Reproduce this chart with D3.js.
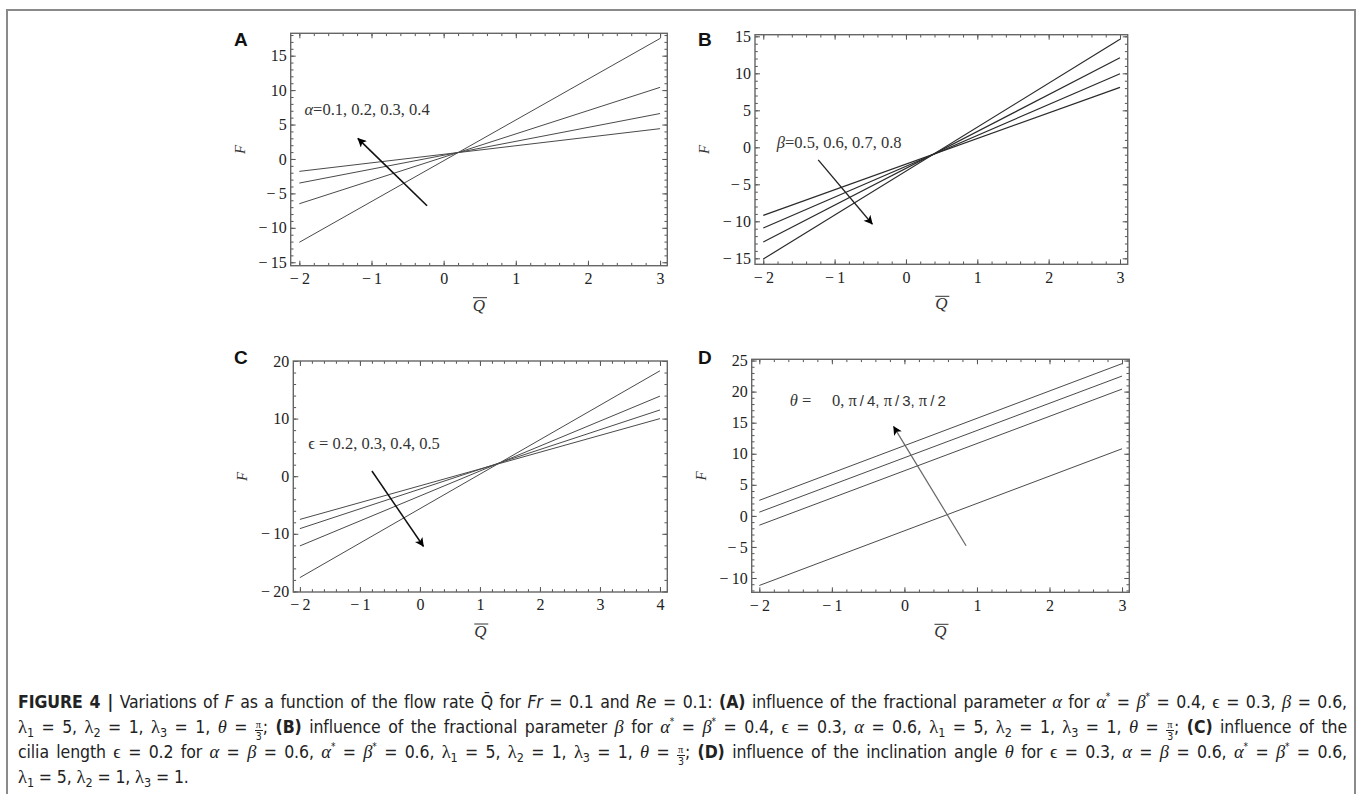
<!DOCTYPE html>
<html lang="en">
<head>
  <meta charset="UTF-8" />
  <title>Figure 4</title>
  <script src="https://cdn.jsdelivr.net/npm/d3@7"></script>
  <style>
    body { margin: 0; background: #fff; }
    #fig { position: absolute; left: 0; top: 0; }
    /* caption lines, each one justified to full width */
    .cap {
      position: absolute;
      left: 18px;
      width: 1329px;
      font-family: "Liberation Sans Narrow", "DejaVu Sans Condensed", "Roboto Condensed", sans-serif;
      font-size: 17.5px;
      letter-spacing: -0.1px;
      color: #222;
      text-align: justify;
      text-align-last: justify;
      line-height: 20px;
      white-space: nowrap;
    }
    .cap .m { font-family: "Liberation Serif", serif; font-size: 18.5px; }
    .cap sup { font-size: 10px; vertical-align: 8px; line-height: 0; }
    .cap sub { font-size: 12.5px; vertical-align: -4px; line-height: 0; }
    .frac { display: inline-block; vertical-align: -7px; text-align: center; font-size: 10.5px; line-height: 10px; }
    .frac span { display: block; padding: 0 1px; }
    .frac span:first-child { border-bottom: 1px solid #222; font-family: "Liberation Serif", serif; }
  </style>
</head>
<body>
<svg id="fig" width="1357" height="794"></svg>
<div id="caption"></div>
<script>
  const width = 1357;
  const height = 794;

  // ---- data (F at the two ends of each straight line) ----
  // A: alpha = 0.1, 0.2, 0.3, 0.4
  const qA = [-2, 3];
  const alphaLines = [[-1.8, 4.4], [-3.5, 6.6], [-6.5, 10.4], [-12.1, 17.5]];
  const xTicksA = [-2, -1, 0, 1, 2, 3];
  const yTicksA = [-15, -10, -5, 0, 5, 10, 15];

  // B: beta = 0.5, 0.6, 0.7, 0.8
  const qB = [-2, 3];
  const betaLines = [[-9.2, 8.1], [-10.9, 9.95], [-12.8, 12.1], [-15.1, 14.6]];
  const xTicksB = [-2, -1, 0, 1, 2, 3];
  const yTicksB = [-15, -10, -5, 0, 5, 10, 15];

  // C: epsilon = 0.2, 0.3, 0.4, 0.5
  const qC = [-2, 4];
  const epsLines = [[-7.5, 10.0], [-9.1, 11.5], [-12.1, 13.9], [-17.6, 18.3]];
  const xTicksC = [-2, -1, 0, 1, 2, 3, 4];
  const yTicksC = [-20, -10, 0, 10, 20];

  // D: theta = 0, pi/4, pi/3, pi/2
  const qD = [-2, 3];
  const thetaLines = [[2.5, 24.5], [0.6, 22.5], [-1.5, 20.4], [-11.2, 10.8]];
  const xTicksD = [-2, -1, 0, 1, 2, 3];
  const yTicksD = [-10, -5, 0, 5, 10, 15, 20, 25];

  // arrows [[q0, F0], [q1, F1]] (tail -> head)
  const arrowA = [[-0.23, -6.8], [-1.19, 3.0]];
  const arrowB = [[-1.23, -1.7], [-0.47, -10.4]];
  const arrowC = [[-0.8, 0.9], [0.06, -12.2]];
  const arrowD = [[0.85, -4.8], [-0.15, 14.4]];

  const panels = [
    { id: 'A', q: qA, lines: alphaLines, xTicks: xTicksA, yTicks: yTicksA, xMinor: 0.2, yMinor: 1,
      xDom: [-2.12, 3.10], yDom: [-15.5, 18.25], box: [290.7, 33.3, 667.3, 265.7],
      arrow: arrowA, lineColor: '#4a4a4a', lineW: 1, arrowColor: '#111', arrowW: 1.6,
      label: { q: -1.93, f: 6.4 }, letter: [234, 46] },
    { id: 'B', q: qB, lines: betaLines, xTicks: xTicksB, yTicks: yTicksB, xMinor: 0.2, yMinor: 1,
      xDom: [-2.116, 3.108], yDom: [-15.81, 15.22], box: [755, 34.7, 1127.7, 264.3],
      arrow: arrowB, lineColor: '#2a2a2a', lineW: 1.2, arrowColor: '#222', arrowW: 1.3,
      label: { q: -1.81, f: -0.1 }, letter: [698, 46] },
    { id: 'C', q: qC, lines: epsLines, xTicks: xTicksC, yTicks: yTicksC, xMinor: 0.2, yMinor: 2,
      xDom: [-2.11, 4.122], yDom: [-20.1, 20], box: [293.3, 361, 667.3, 592],
      arrow: arrowC, lineColor: '#4a4a4a', lineW: 1, arrowColor: '#111', arrowW: 1.5,
      label: { q: -1.86, f: 4.8 }, letter: [234, 363.5] },
    { id: 'D', q: qD, lines: thetaLines, xTicks: xTicksD, yTicks: yTicksD, xMinor: 0.2, yMinor: 1,
      xDom: [-2.105, 3.10], yDom: [-12.3, 25.2], box: [751.7, 359.3, 1129.3, 592.3],
      arrow: arrowD, lineColor: '#4a4a4a', lineW: 1, arrowColor: '#666', arrowW: 1.2,
      label: { q: -1.58, f: 17.7 }, letter: [698, 363.5] }
  ];

  const serif = '"Liberation Serif", "Times New Roman", serif';
  const minus = v => (v < 0 ? '\u2212\u2009' + Math.abs(v) : String(v));

  const svg = d3.select('#fig');

  // outer figure box (top + sides)
  svg.append('path')
    .attr('d', `M7,794 V10 H1355 V794`)
    .attr('fill', 'none')
    .attr('stroke', '#8a8a8a')
    .attr('stroke-width', 2);

  const defs = svg.append('defs');

  panels.forEach(p => {
    const [x0, y0, x1, y1] = p.box;
    const x = d3.scaleLinear().domain(p.xDom).range([x0, x1]);
    const y = d3.scaleLinear().domain(p.yDom).range([y1, y0]);
    const g = svg.append('g');

    // minor tick positions
    const xMinorVals = d3.range(Math.ceil(p.xDom[0] / p.xMinor), Math.floor(p.xDom[1] / p.xMinor) + 1)
      .map(i => +(i * p.xMinor).toFixed(4));
    const yMinorVals = d3.range(Math.ceil(p.yDom[0] / p.yMinor), Math.floor(p.yDom[1] / p.yMinor) + 1)
      .map(i => i * p.yMinor);

    const addAxis = (axis, tx, ty, isLabels) => {
      const a = g.append('g').attr('transform', `translate(${tx},${ty})`).call(axis);
      a.select('.domain').remove();
      a.selectAll('line').attr('stroke', '#555').attr('stroke-width', 1);
      if (isLabels) {
        a.selectAll('text').attr('font-family', serif).attr('font-size', 16).attr('fill', '#222');
      }
      return a;
    };

    // major ticks with labels (inward)
    addAxis(d3.axisBottom(x).tickValues(p.xTicks).tickSize(-5).tickPadding(7).tickFormat(minus), 0, y1, true);
    addAxis(d3.axisLeft(y).tickValues(p.yTicks).tickSize(-5).tickPadding(4).tickFormat(minus), x0, 0, true);
    // mirrored majors
    addAxis(d3.axisTop(x).tickValues(p.xTicks).tickSize(-5).tickFormat(''), 0, y0, false);
    addAxis(d3.axisRight(y).tickValues(p.yTicks).tickSize(-5).tickFormat(''), x1, 0, false);
    // minor ticks on all sides
    addAxis(d3.axisBottom(x).tickValues(xMinorVals).tickSize(-2.8).tickFormat(''), 0, y1, false);
    addAxis(d3.axisTop(x).tickValues(xMinorVals).tickSize(-2.8).tickFormat(''), 0, y0, false);
    addAxis(d3.axisLeft(y).tickValues(yMinorVals).tickSize(-2.8).tickFormat(''), x0, 0, false);
    addAxis(d3.axisRight(y).tickValues(yMinorVals).tickSize(-2.8).tickFormat(''), x1, 0, false);

    // frame
    g.append('rect')
      .attr('x', x0).attr('y', y0)
      .attr('width', x1 - x0).attr('height', y1 - y0)
      .attr('fill', 'none')
      .attr('stroke', '#666')
      .attr('stroke-width', 1.4);

    // the four curves
    const line = d3.line().x(d => x(d[0])).y(d => y(d[1]));
    g.selectAll('path.curve')
      .data(p.lines.map(s => s.map((f, i) => [p.q[i], f])))
      .join('path')
      .attr('class', 'curve')
      .attr('d', line)
      .attr('fill', 'none')
      .attr('stroke', p.lineColor)
      .attr('stroke-width', p.lineW);

    // arrow
    defs.append('marker')
      .attr('id', 'head' + p.id)
      .attr('viewBox', '0 0 10 10')
      .attr('refX', 9.5).attr('refY', 5)
      .attr('markerUnits', 'userSpaceOnUse')
      .attr('markerWidth', 12).attr('markerHeight', 9)
      .attr('orient', 'auto')
      .append('path')
      .attr('d', 'M0,0 L10,5 L0,10 L2.5,5 Z')
      .attr('fill', '#000');
    g.append('path')
      .attr('d', line(p.arrow))
      .attr('stroke', p.arrowColor)
      .attr('stroke-width', p.arrowW)
      .attr('fill', 'none')
      .attr('marker-end', `url(#head${p.id})`);

    // axis titles
    g.append('text')
      .attr('transform', `translate(${x0 - 46},${(y0 + y1) / 2}) rotate(-90)`)
      .attr('text-anchor', 'middle')
      .attr('font-family', serif).attr('font-style', 'italic')
      .attr('font-size', 15).attr('fill', '#333')
      .text('F');
    const qx = (x0 + x1) / 2;
    g.append('text')
      .attr('x', qx).attr('y', y1 + 45)
      .attr('text-anchor', 'middle')
      .attr('font-family', serif).attr('font-style', 'italic')
      .attr('font-size', 17).attr('fill', '#333')
      .text('Q');
    g.append('line')
      .attr('x1', qx - 6).attr('x2', qx + 8)
      .attr('y1', y1 + 32).attr('y2', y1 + 32)
      .attr('stroke', '#333').attr('stroke-width', 1);

    // panel letter
    g.append('text')
      .attr('x', p.letter[0]).attr('y', p.letter[1])
      .attr('font-family', '"Liberation Sans", Arial, sans-serif')
      .attr('font-weight', 'bold').attr('font-size', 19)
      .attr('fill', '#111')
      .text(p.id);

    // parameter label
    const lt = g.append('text')
      .attr('x', x(p.label.q)).attr('y', y(p.label.f))
      .attr('font-family', serif).attr('font-size', 16.5).attr('fill', '#333');
    if (p.id === 'A') {
      lt.append('tspan').attr('font-style', 'italic').text('α');
      lt.append('tspan').text('=0.1, 0.2, 0.3, 0.4');
    } else if (p.id === 'B') {
      lt.append('tspan').attr('font-style', 'italic').text('β');
      lt.append('tspan').text('=0.5, 0.6, 0.7, 0.8');
    } else if (p.id === 'C') {
      lt.append('tspan').text('ϵ = 0.2, 0.3, 0.4, 0.5');
    } else {
      lt.append('tspan').attr('font-style', 'italic').text('θ');
      lt.append('tspan').attr('xml:space', 'preserve').text(' =\u2003 0, ');
      const sans = '"Liberation Sans", Arial, sans-serif';
      lt.append('tspan').text('π');
      lt.append('tspan').attr('font-family', sans).attr('font-size', 15).text('\u2009/\u20094, ');
      lt.append('tspan').text('π');
      lt.append('tspan').attr('font-family', sans).attr('font-size', 15).text('\u2009/\u20093, ');
      lt.append('tspan').text('π');
      lt.append('tspan').attr('font-family', sans).attr('font-size', 15).text('\u2009/\u20092');
    }
  });

  // ---- caption ----
  const frac = '<span class="frac"><span>π</span><span>3</span></span>';
  const lam = '<span class="m">λ</span><sub>1</sub> = 5, <span class="m">λ</span><sub>2</sub> = 1, <span class="m">λ</span><sub>3</sub> = 1';
  const ast = (s) => `<i class="m">${s}</i><sup>*</sup>`;
  const captionLines = [
    `<b>FIGURE 4 |</b> Variations of <i>F</i> as a function of the flow rate Q̄ for <i>Fr</i> = 0.1 and <i>Re</i> = 0.1: <b>(A)</b> influence of the fractional parameter <i class="m">α</i> for ${ast('α')} = ${ast('β')} = 0.4, <span class="m">ϵ</span> = 0.3, <i class="m">β</i> = 0.6,`,
    `${lam}, <i class="m">θ</i> = ${frac}; <b>(B)</b> influence of the fractional parameter <i class="m">β</i> for ${ast('α')} = ${ast('β')} = 0.4, <span class="m">ϵ</span> = 0.3, <i class="m">α</i> = 0.6, ${lam}, <i class="m">θ</i> = ${frac}; <b>(C)</b> influence of the`,
    `cilia length <span class="m">ϵ</span> = 0.2 for <i class="m">α</i> = <i class="m">β</i> = 0.6, ${ast('α')} = ${ast('β')} = 0.6, ${lam}, <i class="m">θ</i> = ${frac}; <b>(D)</b> influence of the inclination angle <i class="m">θ</i> for <span class="m">ϵ</span> = 0.3, <i class="m">α</i> = <i class="m">β</i> = 0.6, ${ast('α')} = ${ast('β')} = 0.6,`,
    `${lam}.`
  ];
  const captionTops = [692, 717, 742, 767];

  d3.select('#caption').selectAll('div')
    .data(captionLines)
    .join('div')
    .attr('class', 'cap')
    .style('top', (d, i) => captionTops[i] + 'px')
    .style('text-align-last', (d, i) => (i === captionLines.length - 1 ? 'left' : 'justify'))
    .html(d => d);
</script>
</body>
</html>
